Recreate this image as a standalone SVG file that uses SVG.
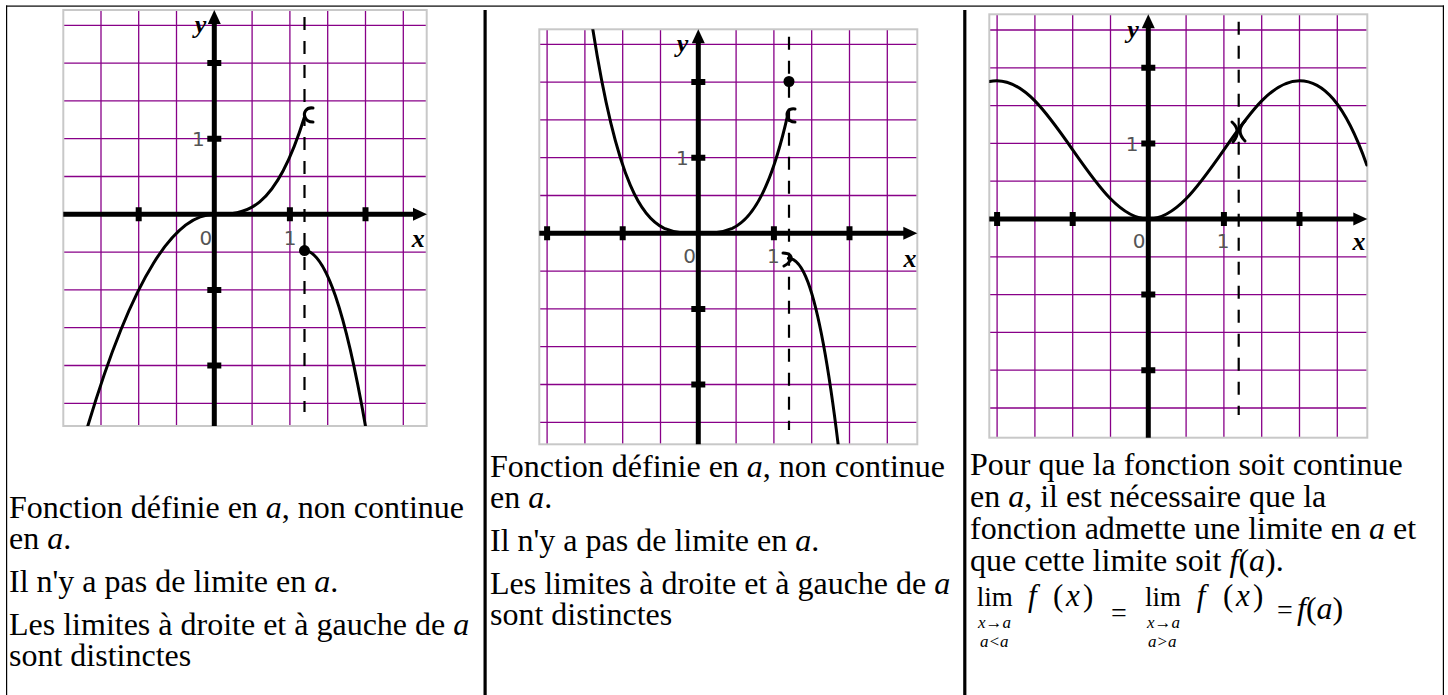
<svg xmlns="http://www.w3.org/2000/svg" width="1448" height="695" viewBox="0 0 1448 695">
<defs>
<style>
.grid{fill:none;stroke:#880088;stroke-width:1.3}
.frame{fill:none;stroke:#c8c8c8;stroke-width:2}
.axis{fill:none;stroke:#000;stroke-width:5}
.curve{fill:none;stroke:#000;stroke-width:3;stroke-linecap:round;stroke-linejoin:round}
.mark{fill:none;stroke:#000;stroke-width:3;stroke-linecap:round}
.dash{fill:none;stroke:#000;stroke-width:2.2;stroke-dasharray:13 11}
.num{font-family:"DejaVu Sans",sans-serif;font-size:20px;fill:#555;text-anchor:middle}
.lbl{font-family:"Liberation Serif",serif;font-weight:bold;font-style:italic;font-size:26px;text-anchor:middle}
.txt{font-family:"Liberation Serif",serif;font-size:32px;fill:#000}
.it{font-style:italic}
.sub{font-family:"Liberation Serif",serif;font-size:17px;font-style:italic}
.fm{font-family:"Liberation Serif",serif}
</style>
<clipPath id="c1"><rect x="63.3" y="10" width="363.4" height="416"/></clipPath>
<clipPath id="c2"><rect x="539.3" y="29.3" width="378" height="415"/></clipPath>
<clipPath id="c3"><rect x="989.3" y="14.3" width="378" height="423.4"/></clipPath>
</defs>
<rect width="1448" height="695" fill="#fff"/>

<g id="table">
<rect x="6" y="5.5" width="1438" height="1.2" fill="#000"/>
<rect x="6" y="5.5" width="1.2" height="690" fill="#000"/>
<rect x="1442.8" y="5.5" width="1.2" height="690" fill="#000"/>
<rect x="483.5" y="10" width="3.2" height="685" fill="#000"/>
<rect x="963.2" y="10" width="3.2" height="685" fill="#000"/>
</g>

<g id="graph1">
<rect x="63.3" y="10" width="363.4" height="416" fill="#fff"/>
<path class="grid" d="M101,10V426M138.7,10V426M176.5,10V426M252.1,10V426M289.9,10V426M327.7,10V426M365.5,10V426M403.3,10V426M63.3,25.3H426.7M63.3,63.1H426.7M63.3,100.9H426.7M63.3,138.7H426.7M63.3,176.5H426.7M63.3,252.1H426.7M63.3,289.9H426.7M63.3,327.7H426.7M63.3,365.5H426.7M63.3,403.3H426.7"/>
<rect class="frame" x="63.3" y="10" width="363.4" height="416"/>
<path class="dash" d="M304.5,17V412"/>
<path class="axis" d="M63.3,214.3H415M214.3,426V22"/>
<polygon points="427,214.3 413,207.8 413,220.8"/>
<polygon points="214.3,10 207.8,24 220.8,24"/>
<path d="M135.7,207.3h6v14h-6zM286.9,207.3h6v14h-6zM362.5,207.3h6v14h-6zM207.3,60.1h14v6h-14zM207.3,135.7h14v6h-14zM207.3,286.9h14v6h-14zM207.3,362.5h14v6h-14z"/>
<g clip-path="url(#c1)">
<path class="curve" d="M87.8,426 C109.8,352.3 131.8,297.9 153.8,262.7 C174,230.4 194.1,214.3 214.3,214.3 C229.4,214.3 244.5,214.3 259.7,201.9 C274.5,189.7 289.4,165.5 304.3,117.5"/>
<path class="curve" d="M304.3,250.6 C314.6,250.6 324.9,265.6 335.3,295.6 C345.3,324.8 355.4,368.4 365.5,426.2"/>
</g>
<path class="mark" d="M313,108 C306,107 303,113 305,117 C306,120 309,122 313,122"/>
<circle cx="304.5" cy="250.6" r="5.5"/>
<text class="lbl" x="200.5" y="33">y</text>
<text class="lbl" x="418.3" y="247">x</text>
<text class="num" x="198.3" y="146">1</text>
<text class="num" x="205.8" y="245">0</text>
<text class="num" x="290" y="245">1</text>
</g>

<g id="graph2">
<rect x="539.3" y="29.3" width="378" height="415" fill="#fff"/>
<path class="grid" d="M547.1,29.3V444.3M584.9,29.3V444.3M622.7,29.3V444.3M660.5,29.3V444.3M736.1,29.3V444.3M773.9,29.3V444.3M811.7,29.3V444.3M849.5,29.3V444.3M887.3,29.3V444.3M539.3,44.3H917.3M539.3,82.1H917.3M539.3,119.9H917.3M539.3,157.7H917.3M539.3,195.5H917.3M539.3,271.1H917.3M539.3,308.9H917.3M539.3,346.7H917.3M539.3,384.5H917.3M539.3,422.3H917.3"/>
<rect class="frame" x="539.3" y="29.3" width="378" height="415"/>
<path class="dash" d="M789,36.7V430"/>
<path class="axis" d="M539.3,233.3H905M698.3,444.3V41"/>
<polygon points="917.3,233.3 903.3,226.8 903.3,239.8"/>
<polygon points="698.3,29.3 691.8,43.3 704.8,43.3"/>
<path d="M544.1,226.3h6v14h-6zM619.7,226.3h6v14h-6zM770.9,226.3h6v14h-6zM846.5,226.3h6v14h-6zM691.3,79.1h14v6h-14zM691.3,154.7h14v6h-14zM691.3,305.9h14v6h-14zM691.3,381.5h14v6h-14z"/>
<g clip-path="url(#c2)">
<path class="curve" d="M592.8,29.3 C605.3,108.9 617.8,156.2 630.3,185.2 C641.6,211.7 652.9,223.1 664.3,228.4 C675.6,233.3 687,233.3 698.3,233.3 C709.6,233.3 721,233.3 732.3,228.4 C743.7,223.1 755,211.7 766.3,185.2 C773.4,168.8 780.5,146.5 787.5,115.8"/>
<path class="curve" d="M788.3,258.2 C794.8,258.2 801.4,264.6 808,282.2 C818.1,309.4 828.2,362.1 838.3,445.6"/>
</g>
<path class="mark" d="M795,109 C788,108 786,113 787.5,117 C788.5,120 791,122 795,122"/>
<path class="mark" d="M783,253 C790,253 793,257 790,261 C788,264 786,265 784,266"/>
<circle cx="789" cy="81.5" r="5.5"/>
<text class="lbl" x="682.5" y="52">y</text>
<text class="lbl" x="910" y="266.5">x</text>
<text class="num" x="682.3" y="165.3">1</text>
<text class="num" x="689.7" y="263.3">0</text>
<text class="num" x="773.3" y="263.3">1</text>
</g>

<g id="graph3">
<rect x="989.3" y="14.3" width="378" height="423.4" fill="#fff"/>
<path class="grid" d="M997.1,14.3V437.7M1034.9,14.3V437.7M1072.7,14.3V437.7M1110.5,14.3V437.7M1186.1,14.3V437.7M1223.9,14.3V437.7M1261.7,14.3V437.7M1299.5,14.3V437.7M1337.3,14.3V437.7M989.3,30H1367.3M989.3,67.8H1367.3M989.3,105.6H1367.3M989.3,143.4H1367.3M989.3,181.2H1367.3M989.3,256.8H1367.3M989.3,294.6H1367.3M989.3,332.4H1367.3M989.3,370.2H1367.3M989.3,408H1367.3"/>
<rect class="frame" x="989.3" y="14.3" width="378" height="423.4"/>
<path class="dash" d="M1238.7,21.7V415"/>
<path class="axis" d="M989.3,219H1355M1148.3,437.7V26"/>
<polygon points="1367.3,219 1353.3,212.5 1353.3,225.5"/>
<polygon points="1148.3,14.3 1141.8,28.3 1154.8,28.3"/>
<path d="M994.1,212h6v14h-6zM1069.7,212h6v14h-6zM1220.9,212h6v14h-6zM1296.5,212h6v14h-6zM1141.3,64.8h14v6h-14zM1141.3,140.4h14v6h-14zM1141.3,291.6h14v6h-14zM1141.3,367.2h14v6h-14z"/>
<g clip-path="url(#c3)">
<path class="curve" d="M989.5,81.5 C1004.7,78.1 1019.8,85.5 1034.9,100.9 C1047.5,113.7 1060.1,131.7 1072.7,149.8 C1085.3,167.9 1097.9,185.9 1110.5,198.7 C1123.1,211.5 1135.7,219 1148.3,219 C1160.9,219 1173.5,211.5 1186.1,198.7 C1198.7,185.9 1211.3,167.9 1223.9,149.8 C1236.5,131.7 1249.1,113.7 1261.7,100.9 C1274.3,88.1 1286.9,80.7 1299.5,80.7 C1322.2,80.7 1344.3,101.5 1366.8,165"/>
</g>
<path class="mark" d="M1232,122 Q1242,131 1233,142M1245,121 Q1235,131 1245,141"/>
<text class="lbl" x="1133" y="38">y</text>
<text class="lbl" x="1359" y="250">x</text>
<text class="num" x="1132" y="150.7">1</text>
<text class="num" x="1139" y="248.3">0</text>
<text class="num" x="1223" y="248.3">1</text>
</g>

<g id="text1" class="txt">
<text x="9" y="518">Fonction définie en <tspan class="it">a</tspan>, non continue</text>
<text x="9" y="549">en <tspan class="it">a</tspan>.</text>
<text x="9" y="592">Il n'y a pas de limite en <tspan class="it">a</tspan>.</text>
<text x="9" y="635">Les limites à droite et à gauche de <tspan class="it">a</tspan></text>
<text x="9" y="666">sont distinctes</text>
</g>

<g id="text2" class="txt">
<text x="490" y="477">Fonction définie en <tspan class="it">a</tspan>, non continue</text>
<text x="490" y="508">en <tspan class="it">a</tspan>.</text>
<text x="490" y="551">Il n'y a pas de limite en <tspan class="it">a</tspan>.</text>
<text x="490" y="594">Les limites à droite et à gauche de <tspan class="it">a</tspan></text>
<text x="490" y="625">sont distinctes</text>
</g>

<g id="text3" class="txt">
<text x="970" y="475">Pour que la fonction soit continue</text>
<text x="970" y="507">en <tspan class="it">a</tspan>, il est nécessaire que la</text>
<text x="970" y="539">fonction admette une limite en <tspan class="it">a</tspan> et</text>
<text x="970" y="571">que cette limite soit <tspan class="it">f</tspan>(<tspan class="it">a</tspan>).</text>
</g>

<g id="formula" class="fm">
<text x="976.7" y="606" font-size="27">lim</text>
<text y="606" font-size="31"><tspan x="1028" font-style="italic">f</tspan><tspan x="1053">(</tspan><tspan x="1066" font-style="italic">x</tspan><tspan x="1083">)</tspan></text>
<text x="1111" y="622" font-size="28">=</text>
<text x="1145" y="606" font-size="27">lim</text>
<text y="606" font-size="31"><tspan x="1196.7" font-style="italic">f</tspan><tspan x="1223">(</tspan><tspan x="1236" font-style="italic">x</tspan><tspan x="1253">)</tspan></text>
<text x="1277" y="619" font-size="28">=</text>
<text x="1297" y="619" font-size="32"><tspan font-style="italic">f</tspan>(<tspan font-style="italic">a</tspan>)</text>
<text class="sub" x="978" y="628">x→a</text>
<text class="sub" x="980" y="647">a&lt;a</text>
<text class="sub" x="1147" y="628">x→a</text>
<text class="sub" x="1148" y="647">a&gt;a</text>
</g>
</svg>
